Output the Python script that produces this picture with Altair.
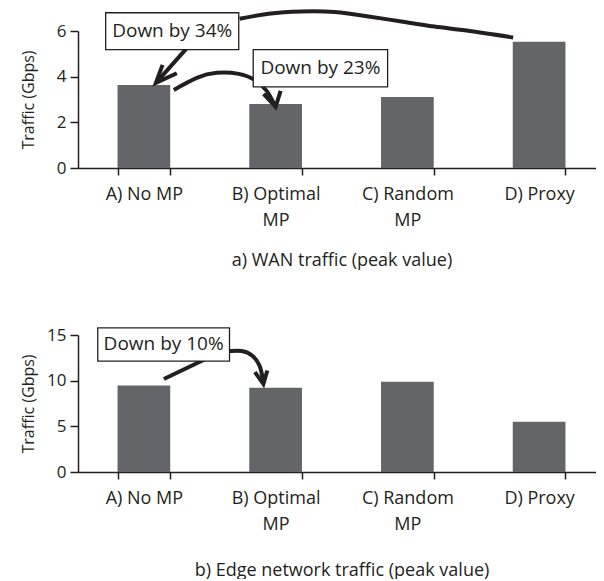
import altair as alt
import pandas as pd

# ---------------- data ----------------
categories = ["A) No MP", "B) Optimal MP", "C) Random MP", "D) Proxy"]
wan_peak = [3.64, 2.80, 3.11, 5.53]
edge_peak = [9.48, 9.22, 9.88, 5.49]

y_title = "Traffic (Gbps)"
wan_title = "a) WAN traffic (peak value)"
edge_title = "b) Edge network traffic (peak value)"
wan_ticks = [0, 2, 4, 6]
edge_ticks = [0, 5, 10, 15]

# callout boxes: x in category slots (0 = left edge of A, 4 = right edge of D), y in Gbps
wan_labels = ["Down by 34%", "Down by 23%"]
wan_box_x1 = [0.21, 1.33]
wan_box_x2 = [1.22, 2.35]
wan_box_y1 = [6.80, 5.18]
wan_box_y2 = [5.18, 3.55]

edge_labels = ["Down by 10%"]
edge_box_x1 = [0.15]
edge_box_x2 = [1.15]
edge_box_y1 = [15.77]
edge_box_y2 = [12.15]

# connector lines (same units as the boxes)
wan_curve_proxy_x = [1.227, 1.447, 1.697, 1.947, 2.205, 2.455, 2.705, 2.962, 3.303]
wan_curve_proxy_y = [6.535, 6.754, 6.855, 6.829, 6.636, 6.417, 6.197, 6.009, 5.714]
wan_shaft_a_x = [0.848, 0.595]
wan_shaft_a_y = [5.39, 3.75]
wan_head_a_x = [0.642, 0.591, 0.750]
wan_head_a_y = [4.518, 3.728, 4.150]
wan_curve_b_x = [0.727, 0.902, 1.053, 1.220, 1.341, 1.432, 1.500]
wan_curve_b_y = [3.421, 3.947, 4.167, 4.123, 3.860, 3.377, 2.675]
wan_head_b_x = [1.409, 1.500, 1.538]
wan_head_b_y = [3.246, 2.675, 3.377]

edge_line_x = [0.652, 1.0]
edge_line_y = [10.18, 12.59]
edge_curve_x = [1.106, 1.242, 1.326, 1.379, 1.409]
edge_curve_y = [13.19, 13.25, 12.70, 11.60, 9.74]
edge_head_x = [1.343, 1.407, 1.437]
edge_head_y = [10.94, 9.63, 11.12]

# ---------------- style ----------------
FONT = "Open Sans"
INK = "#231f20"
BAR = "#646569"
W, H = 527, 137


def path_frame(paths):
    rows = []
    for pid, xs, ys in paths:
        for i, (x, y) in enumerate(zip(xs, ys)):
            rows.append({"pid": pid, "i": i, "x": x, "y": y})
    return pd.DataFrame(rows)


def panel(values, ticks, ymax, xtitle, title_y, labels, bx1, bx2, by1, by2,
          smooth_paths, straight_paths):
    xq = alt.Scale(domain=[0, 4], nice=False, zero=False)
    bars_df = pd.DataFrame({"category": categories, "traffic": values})

    def ys():
        return alt.Scale(domain=[0, ymax], nice=False)

    bars = alt.Chart(bars_df).mark_bar(color=BAR).encode(
        x=alt.X("category:N", sort=categories,
                scale=alt.Scale(paddingInner=0.6, paddingOuter=0.3),
                axis=alt.Axis(title=xtitle, labelAngle=0, tickBand="extent",
                              labelExpr="length(datum.label) > 10 ? [slice(datum.label, 0, lastindexof(datum.label, ' ')), slice(datum.label, lastindexof(datum.label, ' ') + 1)] : datum.label",
                              labelFontSize=18, labelLineHeight=26, labelPadding=10,
                              tickSize=7, titleFontSize=18, titleY=title_y,
                              titleBaseline="alphabetic")),
        y=alt.Y("traffic:Q", scale=ys(),
                axis=alt.Axis(title=y_title, values=ticks, tickSize=8, labelPadding=4,
                              labelFontSize=17, titleFontSize=16, titleX=-45,
                              titleBaseline="alphabetic", grid=False)),
    )

    smooth = alt.Chart(path_frame(smooth_paths)).mark_line(
        color=INK, strokeWidth=4, interpolate="natural", strokeCap="butt"
    ).encode(
        x=alt.X("x:Q", scale=xq, axis=None),
        y=alt.Y("y:Q", scale=ys(), axis=None),
        detail="pid:N", order=alt.Order("i:Q"),
    )
    straight = alt.Chart(path_frame(straight_paths)).mark_line(
        color=INK, strokeWidth=4, strokeCap="butt", strokeJoin="miter"
    ).encode(
        x=alt.X("x:Q", scale=xq, axis=None),
        y=alt.Y("y:Q", scale=ys(), axis=None),
        detail="pid:N", order=alt.Order("i:Q"),
    )

    box_df = pd.DataFrame({"label": labels, "x1": bx1, "x2": bx2, "y1": by1, "y2": by2})
    boxes = alt.Chart(box_df).mark_rect(fill="white", stroke=INK, strokeWidth=1.3).encode(
        x=alt.X("x1:Q", scale=xq, axis=None), x2="x2:Q",
        y=alt.Y("y1:Q", scale=ys(), axis=None), y2="y2:Q",
    )
    texts = alt.Chart(box_df).transform_calculate(
        xc="(datum.x1 + datum.x2) / 2", yc="(datum.y1 + datum.y2) / 2"
    ).mark_text(font=FONT, fontSize=19, color=INK, baseline="middle").encode(
        x=alt.X("xc:Q", scale=xq, axis=None),
        y=alt.Y("yc:Q", scale=ys(), axis=None),
        text="label:N",
    )

    return alt.layer(bars, smooth, straight, boxes, texts).resolve_scale(
        x="independent", y="independent").properties(width=W, height=H)


top = panel(
    wan_peak, wan_ticks, 6, wan_title, 97, wan_labels,
    wan_box_x1, wan_box_x2, wan_box_y1, wan_box_y2,
    [("proxy", wan_curve_proxy_x, wan_curve_proxy_y), ("b", wan_curve_b_x, wan_curve_b_y)],
    [("shaft_a", wan_shaft_a_x, wan_shaft_a_y), ("head_a", wan_head_a_x, wan_head_a_y),
     ("head_b", wan_head_b_x, wan_head_b_y)],
)
bottom = panel(
    edge_peak, edge_ticks, 15, edge_title, 103, edge_labels,
    edge_box_x1, edge_box_x2, edge_box_y1, edge_box_y2,
    [("curve", edge_curve_x, edge_curve_y)],
    [("line", edge_line_x, edge_line_y), ("head", edge_head_x, edge_head_y)],
)

chart = alt.vconcat(top, bottom, spacing=57).properties(
    padding={"left": 11, "top": -5, "right": -9, "bottom": 0}
).configure_view(stroke=None).configure_axis(
    labelFont=FONT, titleFont=FONT, labelColor=INK, titleColor=INK,
    domainColor=INK, tickColor=INK, domainWidth=1.5, tickWidth=1.5,
    titleFontWeight="normal",
)

chart.save("out.html", embed_options={"renderer": "svg", "actions": False})
